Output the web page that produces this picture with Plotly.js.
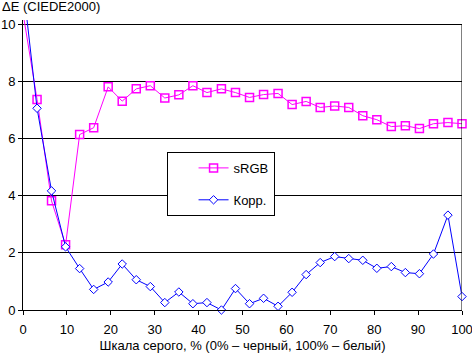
<!DOCTYPE html>
<html>
<head>
<meta charset="utf-8">
<script src="https://cdn.plot.ly/plotly-3.0.1.min.js"></script>
<style>html,body{margin:0;padding:0;background:#fff;}#chart{width:472px;height:353px;}</style>
</head>
<body>
<div id="chart"></div>
<script>
const grayLevels = [0, 3.2, 6.5, 9.7, 12.9, 16.1, 19.4, 22.6, 25.8, 29.0, 32.3, 35.5, 38.7, 41.9, 45.2, 48.4, 51.6, 54.8, 58.1, 61.3, 64.5, 67.7, 71.0, 74.2, 77.4, 80.6, 83.9, 87.1, 90.3, 93.5, 96.8, 100];
const srgbValues = [10.4, 7.37, 3.82, 2.28, 6.14, 6.38, 7.81, 7.31, 7.74, 7.85, 7.42, 7.53, 7.85, 7.61, 7.74, 7.61, 7.44, 7.54, 7.58, 7.19, 7.30, 7.09, 7.14, 7.09, 6.80, 6.66, 6.42, 6.45, 6.35, 6.52, 6.56, 6.52];
const corrValues = [11.4, 7.06, 4.17, 2.21, 1.45, 0.72, 0.98, 1.61, 1.06, 0.82, 0.26, 0.63, 0.22, 0.26, 0.0, 0.75, 0.22, 0.41, 0.13, 0.62, 1.24, 1.66, 1.87, 1.80, 1.74, 1.46, 1.52, 1.31, 1.27, 1.96, 3.32, 0.47];
const seriesNames = ["sRGB", "Корр."];
const xTicks = [0, 10, 20, 30, 40, 50, 60, 70, 80, 90, 100];
const yTicks = [0, 2, 4, 6, 8, 10];

const font = {family: "Liberation Sans, Arial, sans-serif", size: 13, color: "#000"};

const traces = [
  {
    x: grayLevels, y: srgbValues, name: seriesNames[0], type: "scatter", mode: "lines+markers",
    legendgroup: "a", cliponaxis: false,
    line: {color: "#FF00FF", width: 1},
    marker: {symbol: "square-open", size: 8, color: "#FF00FF", line: {width: 1.5, color: "#FF00FF"}}
  },
  {
    x: grayLevels, y: corrValues, name: seriesNames[1], type: "scatter", mode: "lines+markers",
    legendgroup: "b", cliponaxis: false,
    line: {color: "#0000FF", width: 1},
    marker: {symbol: "diamond", size: 6.5, color: "#FFFFFF", line: {width: 1, color: "#0000FF"}}
  }
];

const layout = {
  width: 472, height: 353,
  margin: {l: 23, r: 10, t: 20, b: 43},
  paper_bgcolor: "#fff", plot_bgcolor: "#fff",
  font: font,
  showlegend: true,
  legend: {
    x: 0.327, y: 0.545, xanchor: "left", yanchor: "top",
    bgcolor: "#fff", bordercolor: "#000", borderwidth: 1,
    font: font, tracegroupgap: 12, indentation: 26,
    entrywidth: 62
  },
  xaxis: {
    range: [0, 100], tickvals: xTicks, ticktext: xTicks.map(String),
    showgrid: false, zeroline: false,
    showline: true, linecolor: "#000", linewidth: 1,
    ticks: "outside", ticklen: 4, tickcolor: "#000",
    tickfont: font, ticklabeloverflow: "allow", ticklabelstandoff: 3,
    title: {text: "Шкала серого, % (0% – черный, 100% – белый)", font: font, standoff: 6}
  },
  yaxis: {
    range: [0, 10.15], tickvals: yTicks, ticktext: yTicks.map(String),
    showgrid: true, gridcolor: "#000", gridwidth: 1,
    zeroline: false,
    showline: true, linecolor: "#000", linewidth: 1,
    ticks: "outside", ticklen: 4, tickcolor: "#000",
    tickfont: font
  },
  shapes: [
    {type: "line", xref: "x", yref: "y", x0: 100, x1: 100, y0: 0, y1: 10, line: {color: "#000", width: 1}}
  ],
  annotations: [
    {text: "ΔE (CIEDE2000)", xref: "paper", yref: "paper", x: 0, y: 1, xanchor: "left", yanchor: "bottom",
     xshift: -23, yshift: 4, showarrow: false, font: font}
  ]
};

Plotly.newPlot("chart", traces, layout, {displayModeBar: false, staticPlot: true});
</script>
</body>
</html>
